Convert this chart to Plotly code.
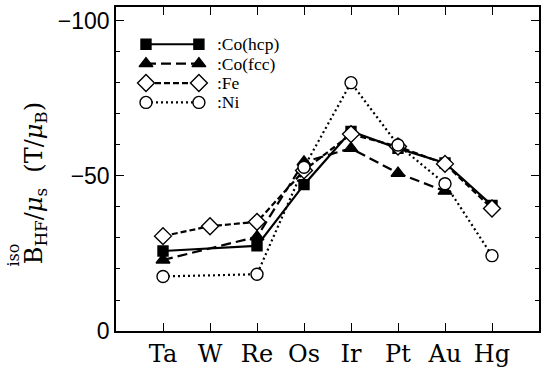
import plotly.graph_objects as go

elements = ["Ta", "W", "Re", "Os", "Ir", "Pt", "Au", "Hg"]
co_hcp = [-25.8, None, -27.5, -47.2, -64.4, -58.9, -54.2, -40.5]
co_fcc = [-22.9, None, -30.4, -54.5, -58.9, -50.9, -45.1, None]
fe = [-30.6, -33.8, -35.2, -51.8, -63.5, -59.5, -53.9, -39.5]
ni = [-17.6, None, -18.3, -52.8, -80.1, -60.0, -47.5, -24.3]

series = [
    (":Co(hcp)", co_hcp, "solid", "square", "black", 10),
    (":Co(fcc)", co_fcc, "10px,5px", "triangle-up", "black", 12),
    (":Fe", fe, "6px,3px", "diamond", "white", 13),
    (":Ni", ni, "2px,3px", "circle", "white", 12),
]

fig = go.Figure()
xs = list(range(len(elements)))
for name, vals, dash, sym, col, msz in series:
    fig.add_trace(go.Scatter(
        x=xs, y=vals, mode="lines+markers", connectgaps=True,
        line=dict(color="black", width=2.2, dash=dash),
        marker=dict(symbol=sym, size=msz, color=col,
                    line=dict(color="black", width=1.4)),
        showlegend=False, name=name, cliponaxis=False))

# custom legend (markers at both ends of the sample line)
leg_x0, leg_x1, leg_tx = 0.0709, 0.196, 0.234
leg_rows = [0.8850, 0.8252, 0.7653, 0.7055]
for (name, vals, dash, sym, col, msz), yr in zip(series, leg_rows):
    fig.add_trace(go.Scatter(
        x=[leg_x0, leg_x1], y=[yr, yr], xaxis="x2", yaxis="y2",
        mode="lines+markers",
        line=dict(color="black", width=2.2, dash=dash),
        marker=dict(symbol=sym, size=msz, color=col,
                    line=dict(color="black", width=1.4)),
        showlegend=False, cliponaxis=False, hoverinfo="skip"))
    fig.add_annotation(x=leg_tx, y=yr, xref="paper", yref="paper",
                       text=name, showarrow=False, xanchor="left", yanchor="middle",
                       font=dict(family="Liberation Serif", size=17.5, color="black"))

# y title
fig.add_annotation(x=-0.19, y=0.455, xref="paper", yref="paper", textangle=-90,
                   text="B<sub>HF</sub>/<i>μ</i><sub>s</sub>  (T/<i>μ</i><sub>B</sub>)",
                   showarrow=False, xanchor="center", yanchor="middle",
                   font=dict(family="DejaVu Serif", size=24, color="black"))
fig.add_annotation(x=-0.242, y=0.235, xref="paper", yref="paper", textangle=-90,
                   text="iso", showarrow=False, xanchor="center", yanchor="middle",
                   font=dict(family="DejaVu Serif", size=16, color="black"))

fig.update_layout(
    width=550, height=373,
    margin=dict(l=116, r=11, t=5, b=42),
    plot_bgcolor="white", paper_bgcolor="white",
    xaxis=dict(range=[-1, 8], tickmode="array", tickvals=xs, ticktext=elements,
               ticks="inside", ticklen=8, tickwidth=1.2, tickcolor="black",
               showline=True, linecolor="black", linewidth=1.5, mirror="ticks",
               showgrid=False, zeroline=False,
               tickfont=dict(family="DejaVu Serif", size=24, color="black")),
    yaxis=dict(range=[0, -104.5], tickmode="array", tickvals=[-100, -50, 0],
               ticktext=["\u2212100", "\u221250", "0"],
               ticks="inside", ticklen=8, tickwidth=1.2, tickcolor="black",
               showline=True, linecolor="black", linewidth=1.5, mirror="ticks",
               showgrid=False, zeroline=False,
               minor=dict(tickmode="linear", tick0=0, dtick=10, ticks="inside",
                          ticklen=4, tickwidth=1.2, tickcolor="black", showgrid=False),
               tickfont=dict(family="Liberation Sans", size=23, color="black")),
    xaxis2=dict(range=[0, 1], overlaying="x", visible=False),
    yaxis2=dict(range=[0, 1], overlaying="y", visible=False),
)

fig.write_html("out.html")
